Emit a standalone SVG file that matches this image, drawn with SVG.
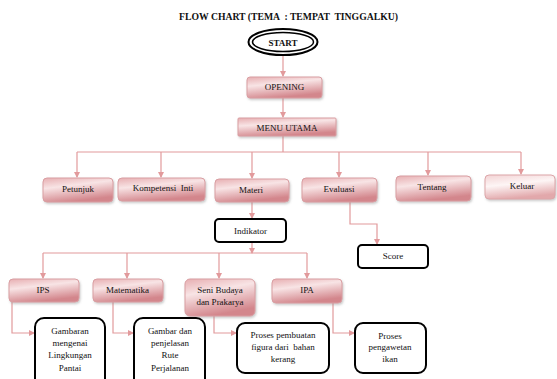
<svg xmlns="http://www.w3.org/2000/svg" width="557" height="379" viewBox="0 0 557 379">
<defs>
<linearGradient id="pink" x1="0" y1="0" x2="0.35" y2="1">
<stop offset="0" stop-color="#e7aeb1"/>
<stop offset="0.4" stop-color="#f8e4e5"/>
<stop offset="1" stop-color="#d3868c"/>
</linearGradient>
<linearGradient id="pinklight" x1="0" y1="0" x2="0.3" y2="1">
<stop offset="0" stop-color="#f3d3d4"/>
<stop offset="0.45" stop-color="#fdf5f5"/>
<stop offset="1" stop-color="#e2a8ab"/>
</linearGradient>
<filter id="sh" x="-10%" y="-10%" width="125%" height="140%">
<feDropShadow dx="1" dy="1.5" stdDeviation="0.8" flood-color="#888" flood-opacity="0.45"/>
</filter>
<marker id="arr" markerWidth="6" markerHeight="6" refX="5" refY="3" orient="auto" markerUnits="userSpaceOnUse">
<path d="M0,0 L6,3 L0,6 z" fill="#e29a9c"/>
</marker>
<style>
text{font-family:"Liberation Serif","Times New Roman",serif;font-size:9px;fill:#111;text-anchor:middle;white-space:pre}
.t{font-weight:bold;font-size:9.7px}
.b{font-weight:bold}
.p{fill:url(#pink);stroke:#d99ea2;stroke-width:1;filter:url(#sh)}
.pl{fill:url(#pinklight);stroke:#dca6a9;stroke-width:1;filter:url(#sh)}
.k{fill:#fff;stroke:#000;stroke-width:2}
.c{fill:none;stroke:#e29a9c;stroke-width:1.2}
.ca{fill:none;stroke:#e29a9c;stroke-width:1.2;marker-end:url(#arr)}
</style>
</defs>
<rect width="557" height="379" fill="#fff"/>
<text class="t" x="288.5" y="20" xml:space="preserve">FLOW CHART (TEMA  : TEMPAT  TINGGALKU)</text>

<g id="connectors">
<line class="ca" x1="283" y1="56" x2="283" y2="76"/>
<line class="ca" x1="283" y1="98" x2="283" y2="117"/>
<polyline class="c" points="283,136 283,152"/>
<line class="c" x1="77" y1="152" x2="521" y2="152"/>
<line class="ca" x1="77" y1="152" x2="77" y2="177"/>
<line class="ca" x1="161" y1="152" x2="161" y2="177"/>
<line class="ca" x1="252" y1="152" x2="252" y2="178"/>
<line class="ca" x1="339" y1="152" x2="339" y2="177"/>
<line class="ca" x1="428" y1="152" x2="428" y2="175"/>
<line class="ca" x1="521" y1="152" x2="521" y2="174"/>
<line class="ca" x1="252" y1="202" x2="252" y2="218"/>
<polyline class="ca" points="350,202 350,224 377,224 377,244"/>
<line class="ca" x1="252" y1="242" x2="252" y2="253"/>
<line class="c" x1="43" y1="253" x2="307" y2="253"/>
<line class="ca" x1="43" y1="253" x2="43" y2="278"/>
<line class="ca" x1="127" y1="253" x2="127" y2="278"/>
<line class="ca" x1="219" y1="253" x2="219" y2="278"/>
<line class="ca" x1="307" y1="253" x2="307" y2="278"/>
<polyline class="ca" points="12,302 12,333 34,333"/>
<polyline class="ca" points="113,302 113,333 133,333"/>
<polyline class="ca" points="214,316 214,333 236,333"/>
<polyline class="ca" points="333,303 333,333 354,333"/>
</g>

<g id="start">
<ellipse cx="283" cy="42" rx="34.5" ry="13" fill="#fff" stroke="#000" stroke-width="2"/>
<ellipse cx="283" cy="42" rx="30.5" ry="9.5" fill="#fff" stroke="#000" stroke-width="1.5"/>
<text class="b" x="283" y="45.5">START</text>
</g>
<g id="opening">
<rect class="p" x="247" y="77" width="75" height="21" rx="3"/>
<text x="284.5" y="89.5">OPENING</text>
</g>
<g id="menu-utama">
<rect class="p" x="238" y="118" width="98" height="18" rx="1"/>
<text x="287" y="130.5">MENU UTAMA</text>
</g>
<g id="petunjuk">
<rect class="p" x="43" y="178" width="70" height="24" rx="4"/>
<text x="78" y="192">Petunjuk</text>
</g>
<g id="kompetensi-inti">
<rect class="p" x="118" y="178" width="87" height="23" rx="4"/>
<text x="163" y="191" xml:space="preserve">Kompetensi  Inti</text>
</g>
<g id="materi">
<rect class="p" x="215" y="179" width="74" height="23" rx="4"/>
<text x="251" y="193">Materi</text>
</g>
<g id="evaluasi">
<rect class="p" x="302" y="178" width="75" height="24" rx="4"/>
<text x="339" y="191.5">Evaluasi</text>
</g>
<g id="tentang">
<rect class="p" x="396" y="176" width="75" height="25" rx="4"/>
<text x="432" y="189.5">Tentang</text>
</g>
<g id="keluar">
<rect class="pl" x="485" y="175" width="70" height="24" rx="4"/>
<text x="522" y="188.5">Keluar</text>
</g>
<g id="indikator">
<rect class="k" x="215" y="219" width="71" height="23" rx="4"/>
<text x="250.5" y="233.5">Indikator</text>
</g>
<g id="score">
<rect class="k" x="358" y="245" width="70" height="23" rx="4"/>
<text x="393" y="259">Score</text>
</g>
<g id="ips">
<rect class="p" x="9" y="279" width="70" height="23" rx="4"/>
<text x="43" y="293">IPS</text>
</g>
<g id="matematika">
<rect class="p" x="93" y="279" width="70" height="23" rx="4"/>
<text x="127.5" y="293">Matematika</text>
</g>
<g id="seni-budaya">
<rect class="p" x="185" y="279" width="70" height="37" rx="5"/>
<text x="220" y="293">Seni Budaya</text>
<text x="220" y="304.5">dan Prakarya</text>
</g>
<g id="ipa">
<rect class="p" x="272" y="279" width="70" height="24" rx="4"/>
<text x="307" y="292.5">IPA</text>
</g>
<g id="gambaran">
<rect class="k" x="35" y="318" width="70" height="70" rx="9"/>
<text x="70" y="334">Gambaran</text>
<text x="70" y="346">mengenai</text>
<text x="70" y="358">Lingkungan</text>
<text x="70" y="370.5">Pantai</text>
</g>
<g id="gambar-dan">
<rect class="k" x="134" y="318" width="71" height="70" rx="9"/>
<text x="170" y="334">Gambar dan</text>
<text x="170" y="346">penjelasan</text>
<text x="170" y="358">Rute</text>
<text x="170" y="370.5">Perjalanan</text>
</g>
<g id="proses-pembuatan">
<rect class="k" x="237" y="323" width="92" height="50" rx="8"/>
<text x="283" y="338">Proses pembuatan</text>
<text x="283" y="350" xml:space="preserve">figura dari  bahan</text>
<text x="283" y="362">kerang</text>
</g>
<g id="proses-pengawetan">
<rect class="k" x="355" y="323" width="71" height="50" rx="8"/>
<text x="390" y="338.5">Proses</text>
<text x="390" y="350">pengawetan</text>
<text x="390" y="362">ikan</text>
</g>
</svg>
